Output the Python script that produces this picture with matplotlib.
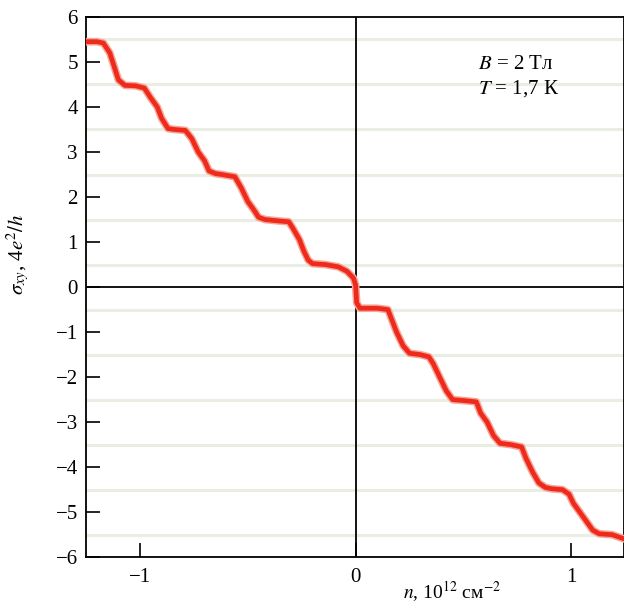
import numpy as np
import matplotlib.pyplot as plt

plt.rcParams['font.family'] = ['Liberation Serif', 'DejaVu Serif']
plt.rcParams['mathtext.fontset'] = 'stix'

# Hall conductivity trace
n_vals = [-1.25, -1.20, -1.17, -1.14, -1.12, -1.10, -1.07, -1.02, -0.98, -0.95,
          -0.92, -0.90, -0.87, -0.84, -0.79, -0.76, -0.73, -0.70, -0.68, -0.65,
          -0.62, -0.56, -0.53, -0.50, -0.47, -0.45, -0.42, -0.36, -0.31, -0.29,
          -0.26, -0.24, -0.22, -0.20, -0.14, -0.08, -0.04, -0.01, 0.0, 0.005,
          0.02, 0.10, 0.15, 0.17, 0.19, 0.22, 0.25, 0.30, 0.34, 0.36,
          0.39, 0.42, 0.45, 0.50, 0.56, 0.58, 0.61, 0.64, 0.67, 0.72,
          0.77, 0.79, 0.82, 0.85, 0.88, 0.91, 0.96, 0.99, 1.01, 1.04,
          1.07, 1.10, 1.13, 1.19, 1.25]
sigma_vals = [5.45, 5.45, 5.42, 5.2, 4.9, 4.6, 4.48, 4.47, 4.42, 4.2,
              4.0, 3.75, 3.52, 3.5, 3.48, 3.3, 3.0, 2.8, 2.58, 2.52,
              2.5, 2.45, 2.2, 1.9, 1.7, 1.55, 1.5, 1.47, 1.45, 1.3,
              1.05, 0.8, 0.6, 0.52, 0.5, 0.45, 0.35, 0.2, 0.05, -0.35,
              -0.47, -0.47, -0.5, -0.75, -1.0, -1.3, -1.47, -1.5, -1.55, -1.7,
              -2.0, -2.3, -2.5, -2.52, -2.55, -2.8, -3.0, -3.3, -3.47, -3.5,
              -3.55, -3.8, -4.1, -4.35, -4.45, -4.48, -4.5, -4.6, -4.8, -5.0,
              -5.2, -5.4, -5.48, -5.5, -5.6]
levels = [-5.5, -4.5, -3.5, -2.5, -1.5, -0.5, 0.5, 1.5, 2.5, 3.5, 4.5, 5.5]
y_ticks = [-6, -5, -4, -3, -2, -1, 0, 1, 2, 3, 4, 5, 6]
x_ticks = [-1, 0, 1]

fig = plt.figure(figsize=(6.24, 6.05), dpi=100)
ax = fig.add_axes([0.138, 0.079, 0.862, 0.893])

for lv in levels:
    ax.axhline(lv, color='#e8efe2', lw=2.2, zorder=1)

ax.axhline(0, color='black', lw=1.3, zorder=2)
ax.axvline(0, color='black', lw=1.3, zorder=2)

ax.plot(n_vals, sigma_vals, color='#f7a596', lw=5.5, solid_capstyle='round', zorder=3)
ax.plot(n_vals, sigma_vals, color='#ee2a1c', lw=3.4, solid_capstyle='round', zorder=4)

ax.set_xlim(-1.25, 1.245)
ax.set_ylim(-6, 6)
ax.set_yticks(y_ticks)
ax.set_yticklabels([str(t).replace('-', '\u2212') for t in y_ticks])
ax.set_xticks(x_ticks)
ax.set_xticklabels(['\u22121', '0', '1'])
ax.tick_params(direction='in', length=10, width=1.2, labelsize=15, pad=8)
ax.tick_params(axis='y', pad=6)
for s in ax.spines.values():
    s.set_linewidth(1.3)

ax.text(0.57, 4.95, r'$B$ = 2 Тл', fontsize=15, va='center')
ax.text(0.57, 4.42, r'$T$ = 1,7 К', fontsize=15, va='center')

ax.set_xlabel(r'$n$, 10$^{12}$ см$^{-2}$', fontsize=14, labelpad=0)
ax.xaxis.set_label_coords(0.68, -0.041)
ax.set_ylabel(r'$\sigma_{xy}$, 4$e^2/h$', fontsize=15)
ax.yaxis.set_label_coords(-0.1, 0.56)

fig.savefig('out.png', dpi=100)
